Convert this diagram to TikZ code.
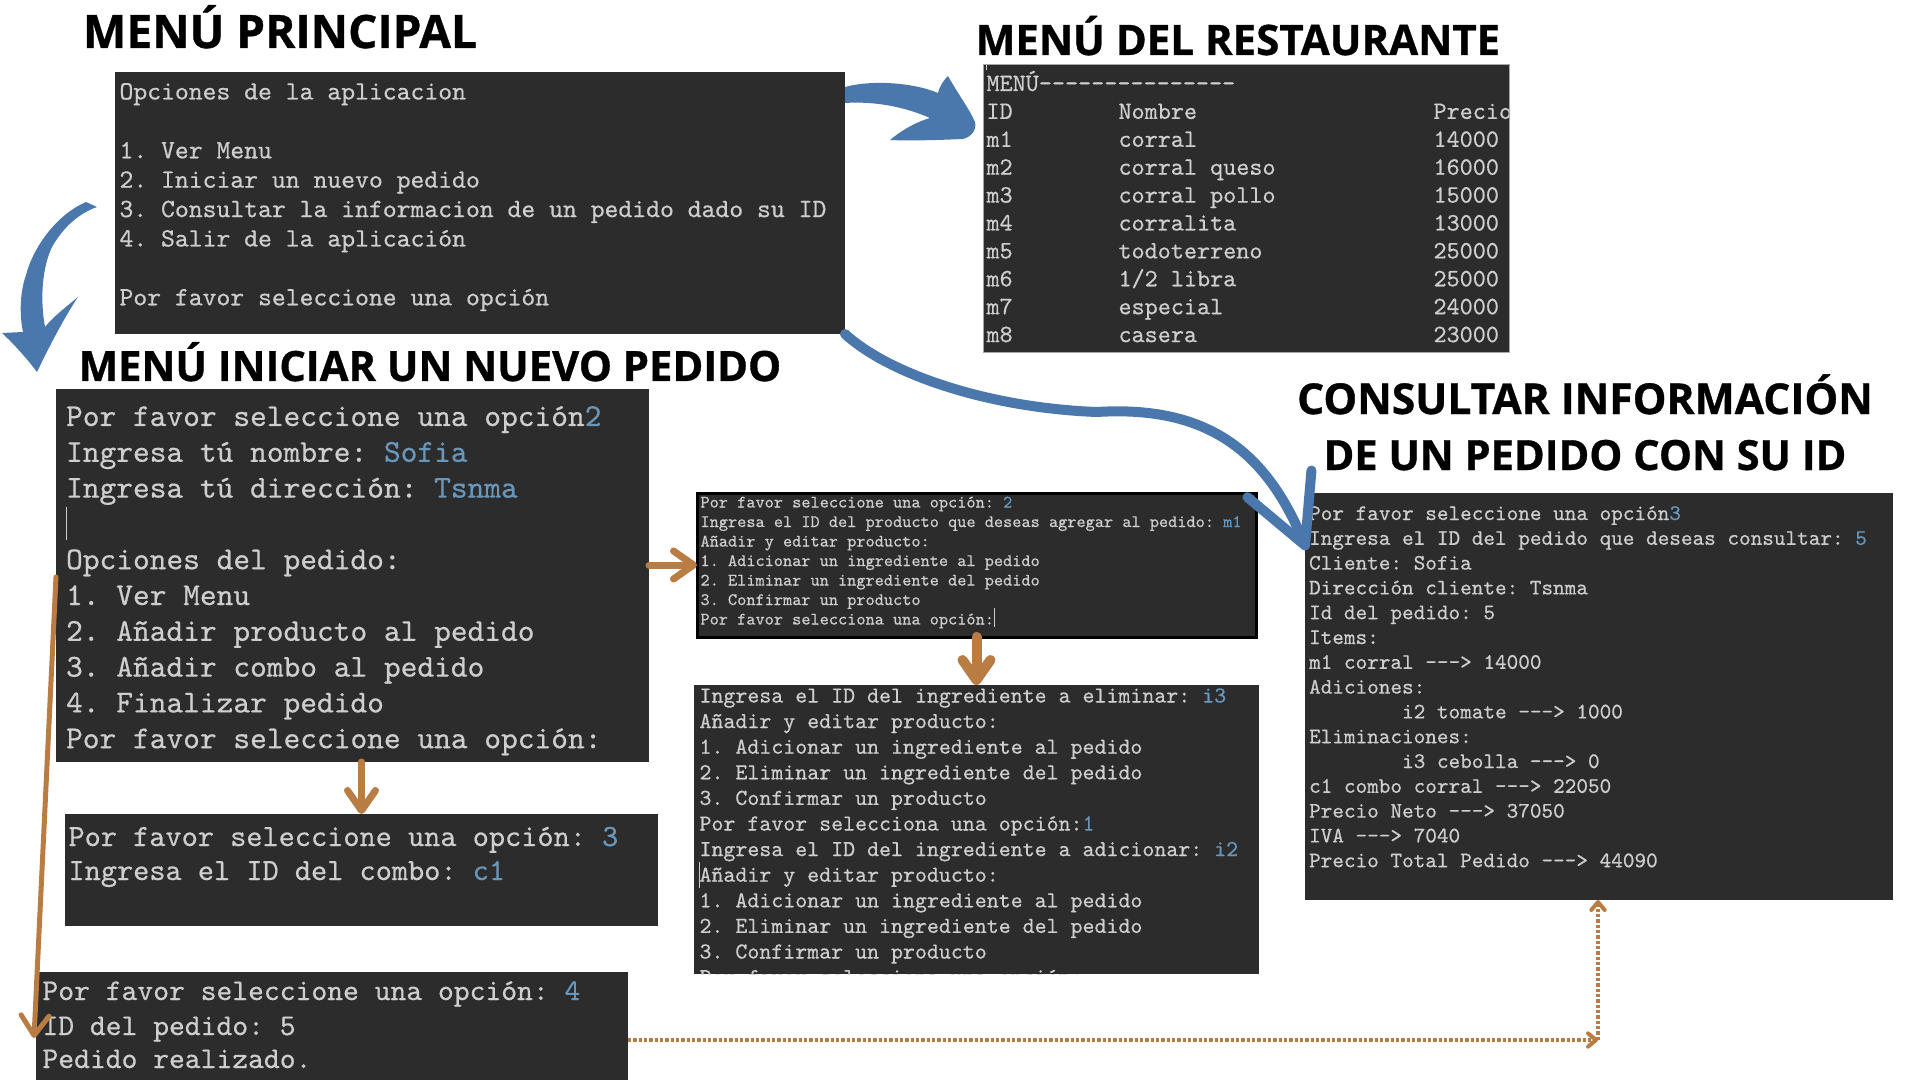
\documentclass[tikz,border=0pt]{standalone}
\usepackage{fontspec}
\newfontfamily\headfont{Open Sans}[BoldFeatures={FakeBold=0.8}]
\newfontfamily\termfont{lmmono10-regular.otf}[FakeBold=0.5]
\usetikzlibrary{arrows.meta,fit}

\definecolor{termbg}{RGB}{44,44,44}
\definecolor{termfg}{RGB}{206,206,206}
\definecolor{termin}{RGB}{104,151,187}
\definecolor{azulflecha}{RGB}{74,120,172}
\definecolor{cafeflecha}{RGB}{185,124,66}

\tikzset{every picture/.style={line width=0.75pt}}
\tikzset{
  termbox/.style={fill=termbg, draw=none, inner sep=0pt, outer sep=0pt},
  titulo/.style={anchor=base, inner sep=0pt, font=\headfont\bfseries\fontsize{#1}{#1}\selectfont},
  linea/.style={anchor=base west, inner sep=0pt, text=termfg, font=\termfont\frenchspacing\fontsize{#1}{#1}\selectfont},
  cursor/.style={draw=termfg, line width=0.75pt},
  cafe/.style={draw=cafeflecha, line width=5.25pt, line cap=round, -{Straight Barb[length=15pt,width=21pt,round]}},
  punteada/.style={draw=cafeflecha, line width=3pt, dash pattern=on 2.5pt off 1.5pt, -{Straight Barb[length=6pt,width=10pt,round]}},
  azul/.style={draw=azulflecha, line width=7.5pt, line cap=round, -{Straight Barb[length=50pt,width=52pt,round]}},
  brocha/.style={fill=azulflecha, draw=none}
}
\newcommand{\inp}[1]{\textcolor{termin}{#1}}
\newcommand{\flecha}{-{}-{}-{}>}

\begin{document}
\begin{tikzpicture}[x=0.75pt,y=0.75pt,yscale=-1,xscale=1]
        \useasboundingbox (0,0) rectangle (1920,1080);

        % Titles
        \node[titulo=34.5] (tprincipal) at (280,48) {MENÚ PRINCIPAL};
        \node[titulo=31.5] (trestaurante) at (1238,55) {MENÚ DEL RESTAURANTE};
        \node[titulo=31.3] (tnuevo) at (430,381) {MENÚ INICIAR UN NUEVO PEDIDO};
        \node[titulo=31.9] (tconsulta) at (1585,414) {CONSULTAR INFORMACIÓN};
        \node[titulo=31.2] (tconsultab) at (1585,470) {DE UN PEDIDO CON SU ID};

        % Terminal boxes
        \node[termbox, fit={(115,72) (845,334)}] (principal) {};
        \node[termbox, draw=gray!70, fit={(983,65) (1509,353)}] (menu) {};
        \node[termbox, fit={(56,389) (649,762)}] (pedido) {};
        \node[termbox, fit={(65,814) (658,926)}] (combo) {};
        \node[termbox, fit={(36,972) (628,1095)}] (final) {};
        \node[termbox, draw=black, line width=2.25pt, fit={(697,493) (1256,637)}] (producto) {};
        \node[termbox, fit={(694,685) (1259,974)}] (ingred) {};
        \node[termbox, fit={(1305,493) (1893,900)}] (consulta) {};

        % Menu principal
        \foreach \k/\t in {0/{Opciones de la aplicacion}, 2/{1. Ver Menu}, 3/{2. Iniciar un nuevo pedido}, 4/{3. Consultar la informacion de un pedido dado su ID}, 5/{4. Salir de la aplicación}, 7/{Por favor seleccione una opción}}
          \node[linea=19.8] (a\k) at (119,99.5+29.4*\k) {\t};

        % Menu del restaurante
        \begin{scope}
          \clip (menu.north west) rectangle (menu.south east);
          \draw[cursor] (986,65) -- (986,70);
          \node[linea=18.7] (m0) at (986,91) {MENÚ-{}-{}-{}-{}-{}-{}-{}-{}-{}-{}-{}-{}-{}-{}-};
          \foreach \k/\id/\nom/\pre in {1/ID/Nombre/Precio, 2/m1/corral/14000, 3/m2/corral queso/16000, 4/m3/corral pollo/15000, 5/m4/corralita/13000, 6/m5/todoterreno/25000, 7/m6/{1/2 libra}/25000, 8/m7/especial/24000, 9/m8/casera/23000}{
            \node[linea=18.7] (mid\k) at (986,91+27.9*\k) {\id};
            \node[linea=18.7] (mnom\k) at (1118,91+27.9*\k) {\nom};
            \node[linea=18.7] (mpre\k) at (1433,91+27.9*\k) {\pre};
          }
        \end{scope}

        % Iniciar un nuevo pedido
        \foreach \k/\t in {0/{Por favor seleccione una opción\inp{2}}, 1/{Ingresa tú nombre: \inp{Sofia}}, 2/{Ingresa tú dirección: \inp{Tsnma}}, 4/{Opciones del pedido:}, 5/{1. Ver Menu}, 6/{2. Añadir producto al pedido}, 7/{3. Añadir combo al pedido}, 8/{4. Finalizar pedido}, 9/{Por favor seleccione una opción:}}
          \node[linea=23.9] (c\k) at (65.6,426+35.8*\k) {\t};
        \draw[cursor] (66,507) -- (66,540);

        % Combo
        \node[linea=23.1] (d0) at (68,846) {Por favor seleccione una opción: \inp{3}};
        \node[linea=23.1] (d1) at (68,880) {Ingresa el ID del combo: \inp{c1}};

        % Finalizar
        \node[linea=22.6] (e0) at (42,1000) {Por favor seleccione una opción: \inp{4}};
        \node[linea=22.6] (e1) at (42,1035) {ID del pedido: 5};
        \node[linea=22.6] (e2) at (42,1068) {Pedido realizado.};

        % Añadir producto
        \foreach \k/\t in {0/{Por favor seleccione una opción: \inp{2}}, 1/{Ingresa el ID del producto que deseas agregar al pedido: \inp{m1}}, 2/{Añadir y editar producto:}, 3/{1. Adicionar un ingrediente al pedido}, 4/{2. Eliminar un ingrediente del pedido}, 5/{3. Confirmar un producto}, 6/{Por favor selecciona una opción:}}
          \node[linea=13.1] (f\k) at (700,507.5+19.5*\k) {\t};
        \draw[cursor] (994,608) -- (994,627);

        % Ingredientes
        \begin{scope}
          \clip (ingred.north west) rectangle (ingred.south east);
          \foreach \k/\t in {0/{Ingresa el ID del ingrediente a eliminar: \inp{i3}}, 1/{Añadir y editar producto:}, 2/{1. Adicionar un ingrediente al pedido}, 3/{2. Eliminar un ingrediente del pedido}, 4/{3. Confirmar un producto}, 5/{Por favor selecciona una opción:\inp{1}}, 6/{Ingresa el ID del ingrediente a adicionar: \inp{i2}}, 7/{Añadir y editar producto:}, 8/{1. Adicionar un ingrediente al pedido}, 9/{2. Eliminar un ingrediente del pedido}, 10/{3. Confirmar un producto}, 11/{Por favor selecciona una opción:}}
            \node[linea=17.1] (g\k) at (699,702.5+25.6*\k) {\t};
        \end{scope}
        \draw[cursor] (699,862) -- (699,888);

        % Consultar pedido
        \foreach \k/\x/\t in {0/0/{Por favor seleccione una opción\inp{3}}, 1/0/{Ingresa el ID del pedido que deseas consultar: \inp{5}}, 2/0/{Cliente: Sofia}, 3/0/{Dirección cliente: Tsnma}, 4/0/{Id del pedido: 5}, 5/0/{Items:}, 6/0/{m1 corral \flecha{} 14000}, 7/0/{Adiciones:}, 8/93/{i2 tomate \flecha{} 1000}, 9/0/{Eliminaciones:}, 10/93/{i3 cebolla \flecha{} 0}, 11/0/{c1 combo corral \flecha{} 22050}, 12/0/{Precio Neto \flecha{} 37050}, 13/0/{IVA \flecha{} 7040}, 14/0/{Precio Total Pedido \flecha{} 44090}}
          \node[linea=16.6] (h\k) at (1308.6+\x,520+24.8*\k) {\t};

        % Blue arrows
        \fill[brocha] (845,87) .. controls (870,80) and (912,82) .. (938,93) .. controls (940,85) and (944,80) .. (948,76) .. controls (958,94) and (970,110) .. (975,122) .. controls (977,130) and (971,137) .. (963,139) .. controls (940,140) and (910,141) .. (890,140) .. controls (902,130) and (916,122) .. (930,118) .. controls (905,107) and (875,101) .. (845,103) -- cycle;
        \fill[brocha] (97,207) -- (86,202) .. controls (58,214) and (34,245) .. (26,275) .. controls (19,295) and (20,318) .. (23,332) -- (2,333) .. controls (15,345) and (28,360) .. (37,372) .. controls (50,345) and (64,318) .. (78,297) .. controls (66,307) and (54,316) .. (45,327) .. controls (40,300) and (42,268) .. (52,247) .. controls (64,226) and (80,213) .. (97,207) -- cycle;
        \coordinate (llegada) at (1307,550);
        \draw[azul] (principal.south east) .. controls (890,375) and (990,408) .. (1097,412) .. controls (1210,405) and (1267,454) .. (llegada);

        % Brown arrows
        \draw[cafe] (pedido.east |- producto.west) -- (producto.west);
        \draw[cafe] (combo.north |- pedido.south) -- (combo.north);
        \draw[cafe, line width=7.5pt] (producto.south) -- (ingred.north);
        \coordinate (bajada) at (34,1038);
        \draw[cafe, line width=3.75pt] (pedido.west |- 0,577) -- (bajada);
        \coordinate (esquina) at (1598,1040);
        \draw[punteada] (final.east |- esquina) -- (esquina);
        \draw[punteada] (esquina) -- (consulta.south -| esquina);

\end{tikzpicture}
\end{document}
